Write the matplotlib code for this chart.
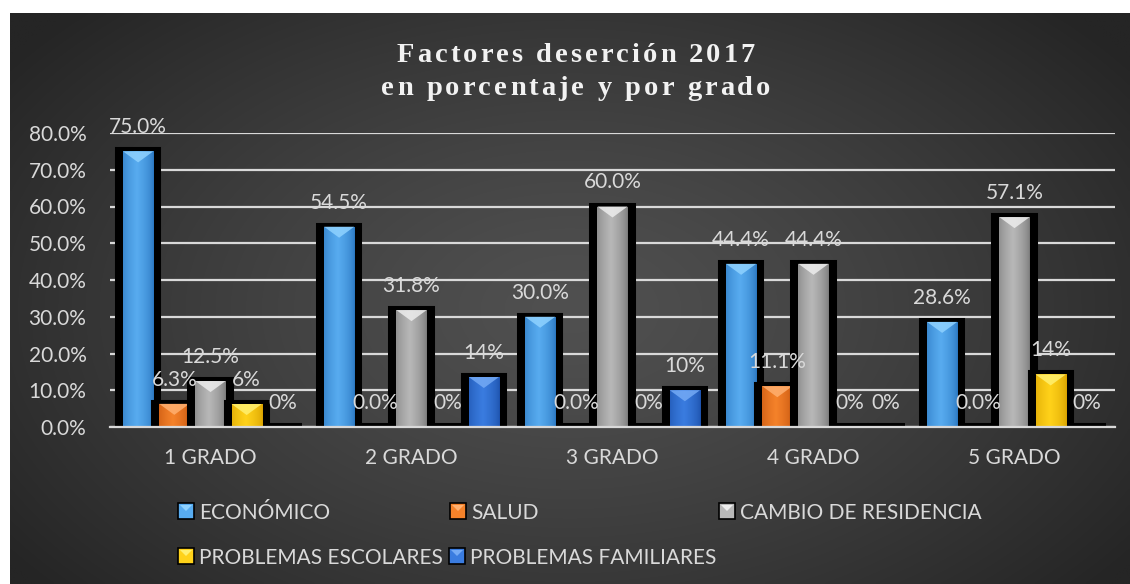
import numpy as np
import matplotlib
matplotlib.use("Agg")
import matplotlib.pyplot as plt
from matplotlib.patches import Rectangle, Polygon
from matplotlib.font_manager import FontProperties

# datos
grados = ["1 GRADO", "2 GRADO", "3 GRADO", "4 GRADO", "5 GRADO"]
series = ["ECONÓMICO", "SALUD", "CAMBIO DE RESIDENCIA",
          "PROBLEMAS ESCOLARES", "PROBLEMAS FAMILIARES"]
economico = [0.75, 0.545, 0.30, 0.444, 0.286]
salud = [0.063, 0.0, 0.0, 0.111, 0.0]
cambio = [0.125, 0.318, 0.60, 0.444, 0.571]
escolares = [0.0625, 0.0, 0.0, 0.0, 0.143]
familiares = [0.0, 0.136, 0.10, 0.0, 0.0]
formatos = ["{:.1%}", "{:.1%}", "{:.1%}", "{:.0%}", "{:.0%}"]
y_ticks = [0.0, 0.1, 0.2, 0.3, 0.4, 0.5, 0.6, 0.7, 0.8]
titulo = ["Factores deserción 2017", "en porcentaje y por grado"]

valores = [economico, salud, cambio, escolares, familiares]

# (borde, centro, triangulo de arriba)
colores = [
    ("#2a76c0", "#58acf0", "#8fd2ff"),
    ("#c4540e", "#f5822a", "#ffb070"),
    ("#7a7a7a", "#b8b8b8", "#ededed"),
    ("#d9a200", "#ffd21a", "#fff070"),
    ("#1d52ac", "#3a7ce0", "#74aaf5"),
]

plt.rcParams['font.family'] = ['Lato', 'DejaVu Sans']
texto = "#d9d9d9"

W, H = 1130, 584
fig = plt.figure(figsize=(W / 100, H / 100), dpi=100, facecolor="white")

# fondo con degradado radial
bg = fig.add_axes([10 / W, 0, 1 - 10 / W, 1 - 13 / H])
gx, gy = np.meshgrid(np.linspace(0, 1, 400), np.linspace(0, 1, 200))
r = np.sqrt(((gx - 0.5) / 0.62) ** 2 + ((gy - 0.52) / 0.75) ** 2)
r = np.clip(r, 0, 1)
c0, c1 = 0x50 / 255, 0x25 / 255
g = c0 + (c1 - c0) * r ** 1.3
bg.imshow(np.dstack([g, g, g]), aspect="auto", extent=[0, 1, 0, 1], interpolation="bilinear")
bg.axis("off")

ax = fig.add_axes([110 / W, 1 - 427 / H, 1005 / W, 294 / H])
ax.set_facecolor("none")

x = np.arange(len(grados))
paso = 0.18
d_tri = 11 * 0.8 / 294


def degradado(c_borde, c_centro):
    a = np.array(matplotlib.colors.to_rgb(c_borde))
    b = np.array(matplotlib.colors.to_rgb(c_centro))
    t = np.linspace(0, 1, 40)
    p = 1 - np.abs(t - 0.45) / 0.55
    p = np.clip(p, 0, 1) ** 0.6
    return (a[None, :] + (b - a)[None, :] * p[:, None])[None, :, :]


for i, vals in enumerate(valores):
    off = (i - 2) * paso
    c_b, c_c, c_t = colores[i]
    ax.bar(x + off, vals, width=0.19, color="black", edgecolor="black",
           linewidth=5.8, joinstyle="miter", zorder=2 + 3 * i)
    fills = ax.bar(x + off, vals, width=0.15, color=c_c, linewidth=0, zorder=3 + 3 * i)
    img = degradado(c_b, c_c)
    for patch, v in zip(fills, vals):
        if v <= 0:
            continue
        x0, w = patch.get_x(), patch.get_width()
        im = ax.imshow(img, extent=[x0, x0 + w, 0, v], aspect="auto",
                       interpolation="bilinear", zorder=3 + 3 * i)
        im.set_clip_path(patch)
        ax.add_patch(Polygon([[x0, v], [x0 + w, v], [x0 + w / 2, v - min(d_tri, v / 2)]],
                             closed=True, facecolor=c_t, linewidth=0, alpha=0.85,
                             zorder=3.5 + 3 * i))
    for xi, v in zip(x, vals):
        ax.annotate(formatos[i].format(v), (xi + off, v), xytext=(0, 13),
                    textcoords="offset points", ha="center", va="baseline",
                    color=texto, fontsize=15, zorder=40, annotation_clip=False)

ax.set_xlim(-0.5, len(grados) - 0.5)
ax.set_ylim(0, 0.8)
ax.set_yticks(y_ticks)
ax.set_yticklabels(["{:.1%}".format(t) for t in y_ticks])
ax.set_xticks(x)
ax.set_xticklabels(grados)
ax.grid(axis="y", color="#d9d9d9", linewidth=1.6)
ax.set_axisbelow(True)
ax.axhline(0, color="#d9d9d9", linewidth=1.6, zorder=30, clip_on=False)
for s in ax.spines.values():
    s.set_visible(False)
ax.tick_params(axis="both", length=0, colors=texto, labelsize=15)
ax.tick_params(axis="y", pad=17)
ax.tick_params(axis="x", pad=15)

# capa superior en pixeles para titulo y leyenda
top = fig.add_axes([0, 0, 1, 1])
top.set_xlim(0, W)
top.set_ylim(H, 0)
top.axis("off")
top.set_facecolor("none")

fp = FontProperties(family="Liberation Serif", weight="bold", size=20.5)
rend = fig.canvas.get_renderer()


def texto_espaciado(s, xc, y, ancho):
    base = rend.get_text_width_height_descent("||", fp, ismath=False)[0]
    anchos = [rend.get_text_width_height_descent("|" + c + "|", fp, ismath=False)[0] - base
              for c in s]
    extra = (ancho - sum(anchos)) / (len(s) - 1)
    xp = xc - ancho / 2
    for c, w in zip(s, anchos):
        top.text(xp, y, c, fontproperties=fp, color="#f2f2f2", ha="left", va="baseline")
        xp += w + extra


texto_espaciado(titulo[0], 576, 62, 358)
texto_espaciado(titulo[1], 576, 95, 389)

# leyenda
pos_leyenda = [(178, 511), (450, 511), (719, 511), (178, 556), (449, 556)]
for (sx, sy), nombre, (c_b, c_c, c_t) in zip(pos_leyenda, series, colores):
    top.add_patch(Rectangle((sx, sy - 8), 16, 16, facecolor=c_c, edgecolor="black", linewidth=1.2))
    top.add_patch(Polygon([[sx + 2, sy - 6], [sx + 14, sy - 6], [sx + 8, sy]],
                          closed=True, facecolor=c_t, linewidth=0))
    top.text(sx + 21, sy + 8, nombre, color=texto, fontsize=15, ha="left", va="baseline")

fig.savefig("out.png", dpi=100, facecolor=fig.get_facecolor())
